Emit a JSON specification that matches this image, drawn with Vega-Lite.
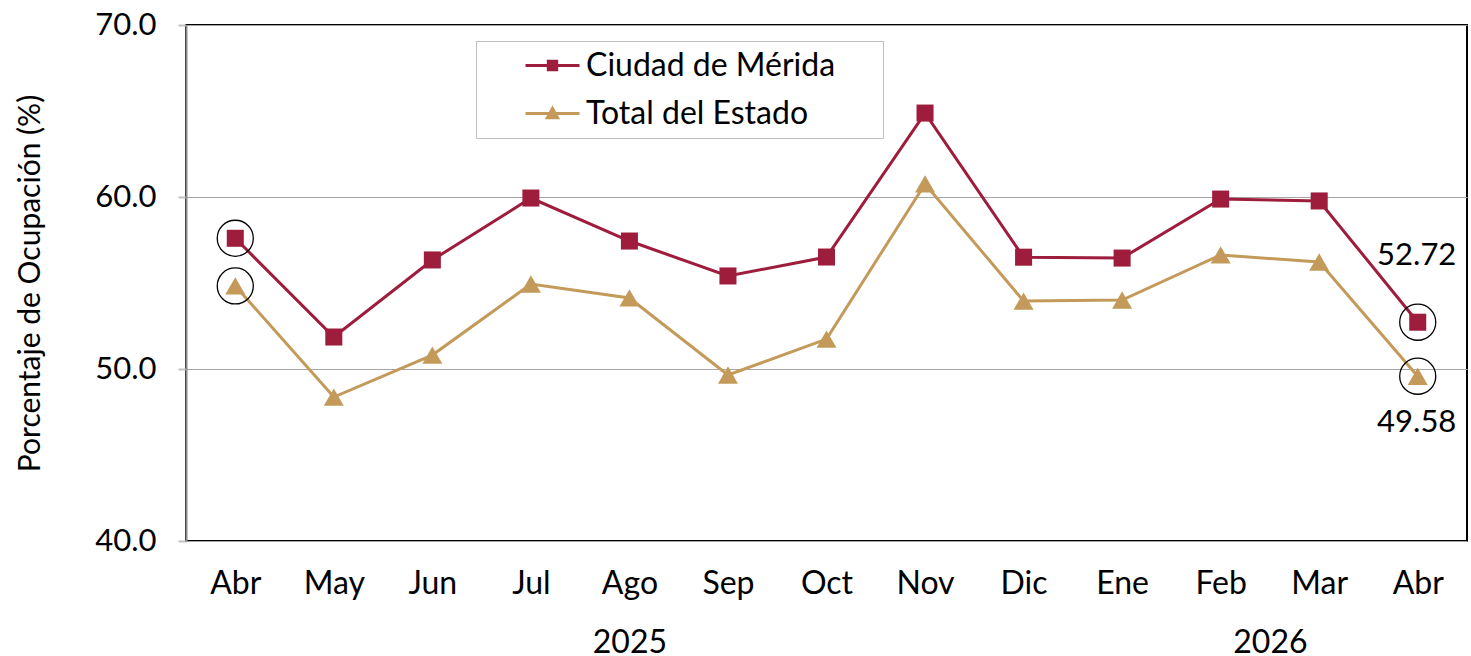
{
  "$schema": "https://vega.github.io/schema/vega-lite/v6.json",
  "width": 1281,
  "height": 516,
  "autosize": {"type": "none"},
  "padding": {"left": 186, "top": 25, "right": 4, "bottom": 115},
  "background": "white",
  "config": {
    "font": "Lato",
    "view": {"stroke": "black", "strokeWidth": 2},
    "axis": {"labelFont": "Lato", "titleFont": "Lato", "labelColor": "black", "titleColor": "black"}
  },
  "data": {
    "values": [
      {"idx": 0, "mes": "Abr", "anio": "2025", "serie": "Ciudad de Mérida", "valor": 57.6},
      {"idx": 1, "mes": "May", "anio": "2025", "serie": "Ciudad de Mérida", "valor": 51.86},
      {"idx": 2, "mes": "Jun", "anio": "2025", "serie": "Ciudad de Mérida", "valor": 56.34},
      {"idx": 3, "mes": "Jul", "anio": "2025", "serie": "Ciudad de Mérida", "valor": 59.94},
      {"idx": 4, "mes": "Ago", "anio": "2025", "serie": "Ciudad de Mérida", "valor": 57.44},
      {"idx": 5, "mes": "Sep", "anio": "2025", "serie": "Ciudad de Mérida", "valor": 55.41},
      {"idx": 6, "mes": "Oct", "anio": "2025", "serie": "Ciudad de Mérida", "valor": 56.51},
      {"idx": 7, "mes": "Nov", "anio": "2025", "serie": "Ciudad de Mérida", "valor": 64.88},
      {"idx": 8, "mes": "Dic", "anio": "2025", "serie": "Ciudad de Mérida", "valor": 56.5},
      {"idx": 9, "mes": "Ene", "anio": "2026", "serie": "Ciudad de Mérida", "valor": 56.45},
      {"idx": 10, "mes": "Feb", "anio": "2026", "serie": "Ciudad de Mérida", "valor": 59.88},
      {"idx": 11, "mes": "Mar", "anio": "2026", "serie": "Ciudad de Mérida", "valor": 59.77},
      {"idx": 12, "mes": "Abr", "anio": "2026", "serie": "Ciudad de Mérida", "valor": 52.72},
      {"idx": 0, "mes": "Abr", "anio": "2025", "serie": "Total del Estado", "valor": 54.83},
      {"idx": 1, "mes": "May", "anio": "2025", "serie": "Total del Estado", "valor": 48.37},
      {"idx": 2, "mes": "Jun", "anio": "2025", "serie": "Total del Estado", "valor": 50.81},
      {"idx": 3, "mes": "Jul", "anio": "2025", "serie": "Total del Estado", "valor": 54.94},
      {"idx": 4, "mes": "Ago", "anio": "2025", "serie": "Total del Estado", "valor": 54.13},
      {"idx": 5, "mes": "Sep", "anio": "2025", "serie": "Total del Estado", "valor": 49.65},
      {"idx": 6, "mes": "Oct", "anio": "2025", "serie": "Total del Estado", "valor": 51.74},
      {"idx": 7, "mes": "Nov", "anio": "2025", "serie": "Total del Estado", "valor": 60.76},
      {"idx": 8, "mes": "Dic", "anio": "2025", "serie": "Total del Estado", "valor": 53.95},
      {"idx": 9, "mes": "Ene", "anio": "2026", "serie": "Total del Estado", "valor": 54.01},
      {"idx": 10, "mes": "Feb", "anio": "2026", "serie": "Total del Estado", "valor": 56.63},
      {"idx": 11, "mes": "Mar", "anio": "2026", "serie": "Total del Estado", "valor": 56.22},
      {"idx": 12, "mes": "Abr", "anio": "2026", "serie": "Total del Estado", "valor": 49.58}
    ]
  },
  "encoding": {
    "x": {
      "field": "idx",
      "type": "quantitative",
      "scale": {"domain": [-0.5, 12.5], "nice": false, "zero": false},
      "axis": {
        "title": null,
        "values": [0, 1, 2, 3, 4, 5, 6, 7, 8, 9, 10, 10.5, 11, 12],
        "labelExpr": "datum.value === 4 ? ['Ago', '\u200b', '2025'] : datum.value === 10.5 ? ['\u200b', '\u200b', '2026'] : ['Abr','May','Jun','Jul','Ago','Sep','Oct','Nov','Dic','Ene','Feb','Mar','Abr'][datum.value]",
        "grid": false,
        "ticks": false,
        "domain": false,
        "labelFontSize": 32,
        "labelLineHeight": 29.5,
        "labelPadding": 27,
        "labelFlush": false,
        "labelOverlap": false,
        "labelBaseline": "top"
      }
    },
    "y": {
      "field": "valor",
      "type": "quantitative",
      "scale": {"domain": [40, 70], "nice": false, "zero": false},
      "axis": {
        "title": "Porcentaje de Ocupación (%)",
        "titleFontSize": 30,
        "titleFontWeight": "normal",
        "titlePadding": 49,
        "values": [40, 50, 60, 70],
        "format": ".1f",
        "labelFontSize": 31,
        "labelPadding": 22,
        "tickSize": 8,
        "tickColor": "#c0c0c0",
        "tickWidth": 2,
        "domainColor": "#8c8c8c",
        "domainWidth": 2,
        "grid": true,
        "gridColor": "#a6a6a6",
        "gridWidth": 1.2
      }
    }
  },
  "layer": [
    {
      "mark": {"type": "line", "strokeWidth": 3},
      "encoding": {
        "color": {
          "field": "serie",
          "type": "nominal",
          "scale": {"domain": ["Ciudad de Mérida", "Total del Estado"], "range": ["#9e1c3c", "#c49a5b"]},
          "legend": {
            "title": null,
            "orient": "none",
            "legendX": 290,
            "legendY": 16,
            "direction": "vertical",
            "fillColor": "white",
            "strokeColor": "#bfbfbf",
            "padding": 8,
            "labelFontSize": 32,
            "labelFont": "Lato",
            "labelColor": "black",
            "labelLimit": 500,
            "labelExpr": "datum.label + '\u2002\u2800'",
            "rowPadding": 15,
            "symbolSize": 900,
            "symbolStrokeWidth": 3,
            "symbolOffset": 52,
            "labelOffset": 17,
            "offset": 0,
            "encode": {
              "symbols": {
                "update": {
                  "shape": {"signal": "datum.value === 'Ciudad de Mérida' ? 'M-1.8,0L1.8,0M-0.28,-0.28L0.28,-0.28L0.28,0.28L-0.28,0.28Z' : 'M-1.8,0L1.8,0M0,-0.34L0.34,0.28L-0.34,0.28Z'"},
                  "stroke": {"signal": "scale('color', datum.value)"},
                  "fill": {"signal": "scale('color', datum.value)"},
                  "strokeWidth": {"value": 3},
                  "size": {"value": 900}
                }
              }
            }
          }
        }
      }
    },
    {
      "transform": [{"filter": "datum.serie === 'Ciudad de Mérida'"}],
      "mark": {"type": "point", "filled": true, "opacity": 1, "shape": "square", "size": 290},
      "encoding": {"color": {"field": "serie", "type": "nominal"}}
    },
    {
      "transform": [{"filter": "datum.serie === 'Total del Estado'"}],
      "mark": {"type": "point", "filled": true, "opacity": 1, "shape": "triangle-up", "size": 400},
      "encoding": {"color": {"field": "serie", "type": "nominal"}}
    },
    {
      "transform": [{"filter": "datum.idx === 0 || datum.idx === 12"}],
      "mark": {"type": "point", "shape": "circle", "filled": false, "stroke": "black", "strokeWidth": 1.3, "size": 1300, "opacity": 1}
    },
    {
      "transform": [{"filter": "datum.idx === 12 && datum.serie === 'Ciudad de Mérida'"}],
      "mark": {"type": "text", "fontSize": 31, "font": "Lato", "color": "black", "dy": -66, "dx": -1},
      "encoding": {"text": {"field": "valor", "type": "quantitative", "format": ".2f"}}
    },
    {
      "transform": [{"filter": "datum.idx === 12 && datum.serie === 'Total del Estado'"}],
      "mark": {"type": "text", "fontSize": 31, "font": "Lato", "color": "black", "dy": 47, "dx": -1},
      "encoding": {"text": {"field": "valor", "type": "quantitative", "format": ".2f"}}
    }
  ]
}
